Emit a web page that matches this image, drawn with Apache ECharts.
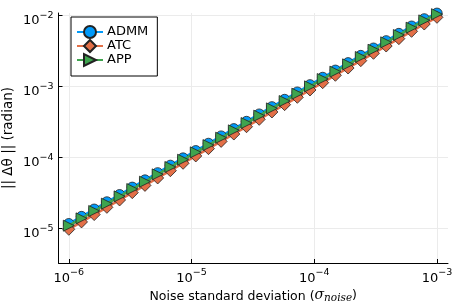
<!DOCTYPE html>
<html>
<head>
<meta charset="utf-8">
<script src="https://cdn.jsdelivr.net/npm/echarts@6/dist/echarts.min.js"></script>
<style>html,body{margin:0;padding:0;background:#fff;}#c{width:457px;height:305px;}</style>
</head>
<body>
<div id="c"></div>
<script>
const sigma = [1.000e-6,1.269e-6,1.610e-6,2.043e-6,2.593e-6,3.290e-6,4.175e-6,5.298e-6,6.723e-6,8.532e-6,
  1.083e-5,1.374e-5,1.743e-5,2.212e-5,2.807e-5,3.562e-5,4.520e-5,5.736e-5,7.279e-5,9.237e-5,
  1.172e-4,1.487e-4,1.887e-4,2.395e-4,3.039e-4,3.857e-4,4.894e-4,6.210e-4,7.880e-4,1.000e-3];
const admm = [1.15e-5,1.45e-5,1.84e-5,2.33e-5,2.95e-5,3.75e-5,4.75e-5,6.00e-5,7.65e-5,9.70e-5,
  1.23e-4,1.56e-4,1.98e-4,2.51e-4,3.18e-4,4.04e-4,5.12e-4,6.50e-4,8.25e-4,1.047e-3,
  1.33e-3,1.68e-3,2.14e-3,2.71e-3,3.44e-3,4.37e-3,5.54e-3,7.03e-3,8.92e-3,1.07e-2];
const atc = [9.6e-6,1.22e-5,1.55e-5,1.96e-5,2.49e-5,3.16e-5,4.00e-5,5.09e-5,6.45e-5,8.20e-5,
  1.04e-4,1.32e-4,1.67e-4,2.12e-4,2.69e-4,3.42e-4,4.34e-4,5.51e-4,6.99e-4,8.87e-4,
  1.125e-3,1.43e-3,1.81e-3,2.30e-3,2.92e-3,3.70e-3,4.70e-3,5.96e-3,7.56e-3,9.40e-3];
const app = [1.08e-5,1.37e-5,1.74e-5,2.21e-5,2.80e-5,3.55e-5,4.51e-5,5.72e-5,7.26e-5,9.21e-5,
  1.17e-4,1.48e-4,1.88e-4,2.39e-4,3.03e-4,3.85e-4,4.88e-4,6.19e-4,7.86e-4,9.98e-4,
  1.266e-3,1.61e-3,2.04e-3,2.59e-3,3.28e-3,4.17e-3,5.29e-3,6.71e-3,8.51e-3,1.04e-2];
const seriesNames = ['ADMM','ATC','APP'];
const xTicks = [1e-6,1e-5,1e-4,1e-3];
const yTicks = [1e-5,1e-4,1e-3,1e-2];

const FONT = 'DejaVu Sans';
const colors = ['#009AFA','#E36F47','#3EA44E'];
const symbols = ['circle','diamond','triangle'];
const sizes = [10.5,12,11];
const rotates = [0,0,-90];
const dataSets = [admm, atc, app];

function fmt(v){
  const e = Math.round(Math.log10(v));
  return '{b|10}{s|' + (e < 0 ? '\u2212' : '') + Math.abs(e) + '}';
}
const rich = {
  b:{fontFamily:FONT,fontSize:13,color:'#000',lineHeight:14,verticalAlign:'bottom'},
  s:{fontFamily:FONT,fontSize:9.5,color:'#000',lineHeight:10,padding:[0,0,7,0],verticalAlign:'bottom'}
};

const chart = echarts.init(document.getElementById('c'), null, {renderer:'canvas'});
chart.setOption({
  animation:false,
  backgroundColor:'#fff',
  grid:{left:58.5,right:9,top:13,bottom:42,containLabel:false,outerBoundsMode:'none'},
  xAxis:{
    type:'log', logBase:10,
    min:Math.pow(10,-6.084), max:Math.pow(10,-2.91),
    axisLine:{show:true,lineStyle:{color:'#000',width:1}},
    axisTick:{show:true,inside:true,length:4,customValues:xTicks,lineStyle:{color:'#000'}},
    axisLabel:{customValues:xTicks,formatter:fmt,rich:rich,margin:8},
    splitLine:{show:true,lineStyle:{color:'#ebebeb',width:1}},
    minorTick:{show:false},
    name:'Noise standard deviation ({m|\u03c3}{sub|noise}{p|)}',
    nameLocation:'middle', nameGap:26, nameMoveOverlap:false,
    nameTextStyle:{fontFamily:FONT,fontSize:12.5,color:'#000',lineHeight:15,
      rich:{
        m:{fontFamily:'DejaVu Serif',fontStyle:'italic',fontSize:14,color:'#000',lineHeight:15,padding:[0,0,2,0],verticalAlign:'bottom'},
        sub:{fontFamily:'DejaVu Serif',fontStyle:'italic',fontSize:10.5,color:'#000',lineHeight:11,verticalAlign:'bottom'},
        p:{fontFamily:FONT,fontSize:12.5,color:'#000',lineHeight:15,padding:[0,0,2,0],verticalAlign:'bottom'}
      }}
  },
  yAxis:{
    type:'log', logBase:10,
    min:Math.pow(10,-5.493), max:Math.pow(10,-1.966),
    axisLine:{show:true,lineStyle:{color:'#000',width:1}},
    axisTick:{show:true,inside:true,length:4,customValues:yTicks,lineStyle:{color:'#000'}},
    axisLabel:{customValues:yTicks,formatter:fmt,rich:rich,margin:5,padding:[10,0,0,0]},
    splitLine:{show:true,lineStyle:{color:'#ebebeb',width:1}},
    name:'|| \u0394\u03b8 || (radian)',
    nameLocation:'middle', nameGap:43, nameRotate:90, nameMoveOverlap:false,
    nameTextStyle:{fontFamily:FONT,fontSize:13.5,color:'#000'}
  },
  legend:{
    orient:'vertical', left:71, top:17,
    padding:[8,9,9,5], itemGap:0, itemWidth:26, itemHeight:15,
    borderColor:'#000', borderWidth:1, borderRadius:0, backgroundColor:'#fff',
    textStyle:{fontFamily:FONT,fontSize:13,color:'#000',padding:[0,0,0,-1]},
    data:seriesNames
  },
  series: seriesNames.map((n,i)=>({
    name:n, type:'line',
    data: sigma.map((s,j)=>[s, dataSets[i][j]]),
    symbol:symbols[i], symbolSize:sizes[i], symbolRotate:rotates[i],
    showAllSymbol:true,
    lineStyle:{color:colors[i],width:2.5},
    itemStyle:{color:colors[i],borderColor:'#222',borderWidth:0.8},
    z:2+i
  }))
});
</script>
</body>
</html>
